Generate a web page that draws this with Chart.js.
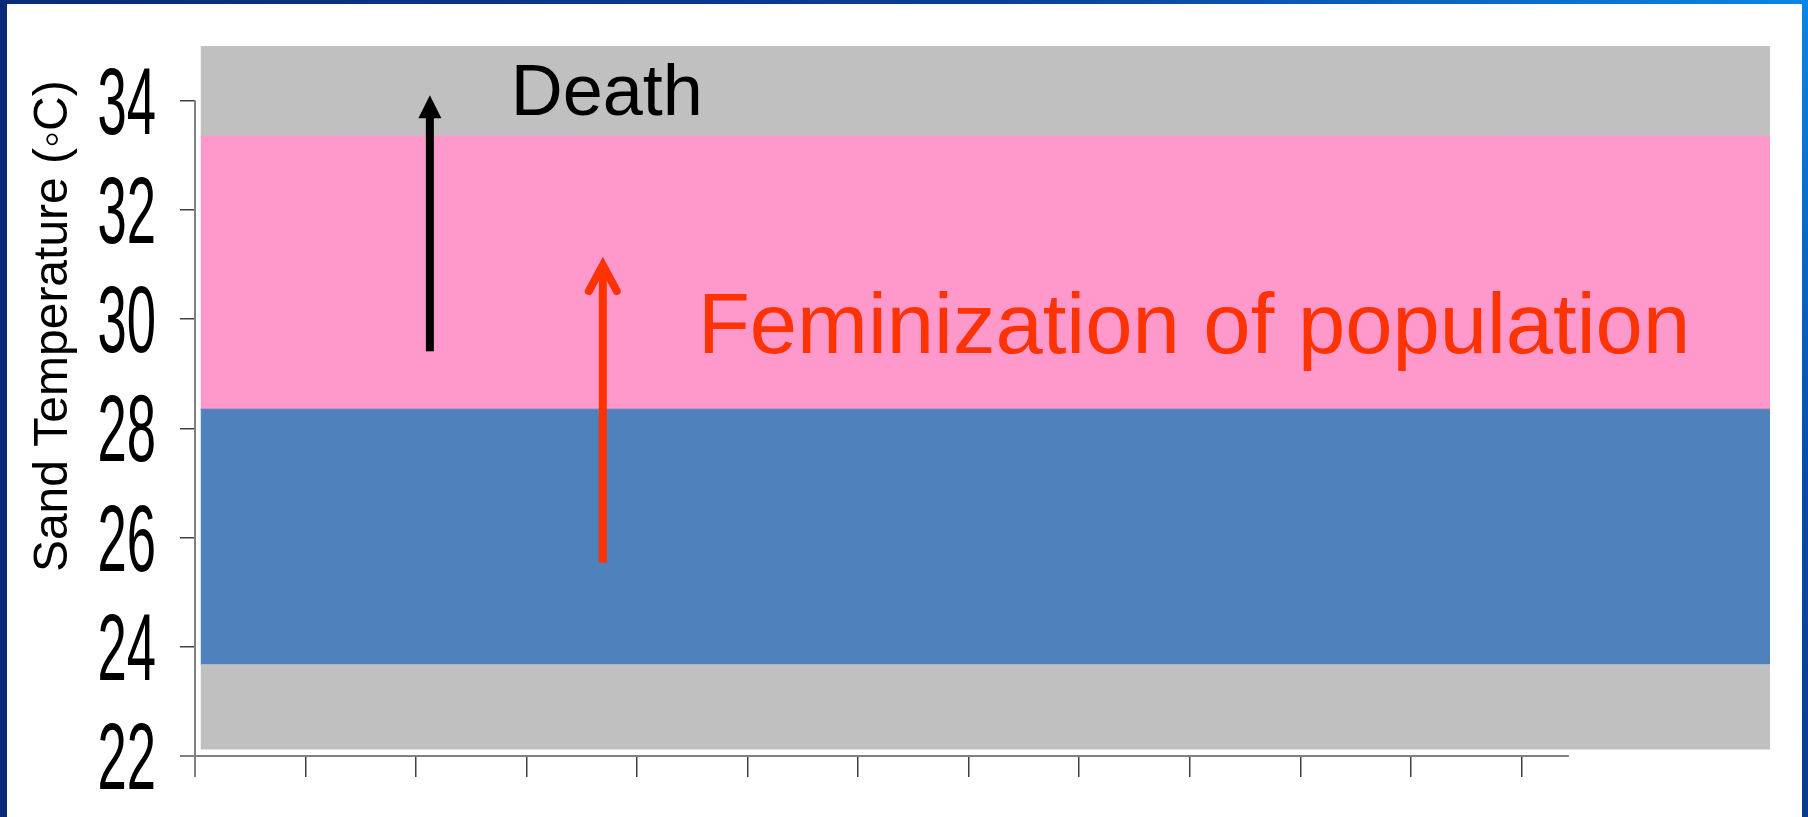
<!DOCTYPE html>
<html>
<head>
<meta charset="utf-8">
<script src="https://cdn.jsdelivr.net/npm/chart.js@4.4.1/dist/chart.umd.min.js"></script>
<style>
  html, body { margin: 0; padding: 0; }
  body {
    width: 1808px; height: 817px; overflow: hidden; position: relative;
    background: linear-gradient(to right, #0b2a78 0%, #0b3e98 55%, #0a86e6 100%);
  }
  .right-edge {
    position: absolute; left: 1802px; top: 0; width: 6px; height: 817px;
    background: linear-gradient(to bottom, #0a86e6, #0a4aa8 60%, #0b3a8e);
  }
  .slide { position: absolute; left: 7px; top: 4px; width: 1795px; height: 813px; background: #fff; }
  #chart { position: absolute; left: 0; top: 0; }
</style>
</head>
<body>
<div class="right-edge"></div>
<div class="slide"></div>
<canvas id="chart" width="1808" height="817"></canvas>
<script>
// Tick values
const yTicks = [22, 24, 26, 28, 30, 32, 34];
const xTicks = [0, 1, 2, 3, 4, 5, 6, 7, 8, 9, 10, 11, 12];

// Temperature bands (°C)
const bandNames = ["Death (cold)", "Male", "Female", "Death"];
const bandLow = [22.12, 23.67, 28.35, 33.35];
const bandHigh = [23.67, 28.35, 33.35, 35];
const bandColors = ["#C0C0C0", "#4F81BD", "#FF99CC", "#C0C0C0"];
const bandStart = 0.05;
const bandEnd = 14.25;
const xAxisEnd = 12.43;

// Arrows (x, from temp, to temp)
const arrowX = [2.125, 3.69];
const arrowFrom = [29.41, 25.54];
const arrowTo = [34.1, 31.08];

// Text notes
const noteText = ["Death", "Feminization of population"];
const noteX = [2.856, 4.55];
const noteY = [33.73, 29.38];

const yTitle = "Sand Temperature (\u25E6C)";

const datasets = bandNames.map((name, i) => ({
  label: name,
  data: [{ x: bandStart, y: bandHigh[i] }, { x: bandEnd, y: bandHigh[i] }],
  fill: { value: bandLow[i] },
  backgroundColor: bandColors[i],
  borderColor: bandColors[i],
  borderWidth: 1,
  pointRadius: 0,
  tension: 0,
}));

// draws axis lines, condensed tick labels, title, arrows and notes
const extras = {
  id: "extras",
  afterDraw(chart) {
    const { ctx, scales: { x, y } } = chart;
    ctx.save();

    // axis lines
    ctx.strokeStyle = "#808080";
    ctx.lineWidth = 2;
    ctx.beginPath();
    ctx.moveTo(x.left, y.getPixelForValue(34));
    ctx.lineTo(x.left, y.bottom + 21);
    ctx.moveTo(x.left - 15, y.bottom);
    ctx.lineTo(x.getPixelForValue(xAxisEnd), y.bottom);
    ctx.stroke();

    // y tick labels (narrow)
    ctx.fillStyle = "#000";
    ctx.font = '94px "Liberation Sans"';
    ctx.textAlign = "right";
    ctx.textBaseline = "alphabetic";
    yTicks.forEach((v) => {
      ctx.save();
      ctx.translate(x.left - 39, y.getPixelForValue(v) + 33);
      ctx.scale(0.56, 1);
      ctx.fillText(String(v), 0, 0);
      ctx.restore();
    });

    // y title
    ctx.save();
    ctx.translate(67, y.getPixelForValue(29.87));
    ctx.rotate(-Math.PI / 2);
    ctx.font = '48px "Liberation Sans"';
    ctx.textAlign = "center";
    ctx.fillText(yTitle, 0, 0);
    ctx.restore();

    // black arrow (filled head)
    let px = x.getPixelForValue(arrowX[0]);
    let pBot = y.getPixelForValue(arrowFrom[0]);
    let pTip = y.getPixelForValue(arrowTo[0]);
    ctx.fillStyle = "#000";
    ctx.fillRect(px - 4, pTip + 20, 8, pBot - pTip - 20);
    ctx.beginPath();
    ctx.moveTo(px, pTip);
    ctx.lineTo(px + 11.5, pTip + 23);
    ctx.lineTo(px - 11.5, pTip + 23);
    ctx.closePath();
    ctx.fill();

    // red arrow (open head)
    px = x.getPixelForValue(arrowX[1]);
    pBot = y.getPixelForValue(arrowFrom[1]);
    pTip = y.getPixelForValue(arrowTo[1]);
    ctx.strokeStyle = "#FF3300";
    ctx.lineWidth = 8;
    ctx.lineCap = "butt";
    ctx.beginPath();
    ctx.moveTo(px, pBot);
    ctx.lineTo(px, pTip + 4);
    ctx.stroke();
    ctx.lineCap = "round";
    ctx.lineJoin = "miter";
    ctx.beginPath();
    ctx.moveTo(px - 14, pTip + 31);
    ctx.lineTo(px, pTip + 5);
    ctx.lineTo(px + 14, pTip + 31);
    ctx.stroke();

    // notes
    ctx.textAlign = "left";
    ctx.fillStyle = "#000";
    ctx.font = '72px "Liberation Sans"';
    ctx.fillText(noteText[0], x.getPixelForValue(noteX[0]), y.getPixelForValue(noteY[0]));
    ctx.fillStyle = "#FF3300";
    ctx.font = '85px "Liberation Sans"';
    ctx.fillText(noteText[1], x.getPixelForValue(noteX[1]), y.getPixelForValue(noteY[1]));

    ctx.restore();
  },
};

const chart = new Chart(document.getElementById("chart"), {
  type: "line",
  data: { datasets: datasets },
  options: {
    responsive: false,
    animation: false,
    events: [],
    layout: { padding: { left: 180, right: 38, top: 46, bottom: 40 } },
    plugins: { legend: { display: false }, tooltip: { enabled: false } },
    scales: {
      x: {
        type: "linear",
        min: 0,
        max: bandEnd,
        afterBuildTicks: (s) => { s.ticks = xTicks.map((v) => ({ value: v })); },
        afterFit: (s) => { s.height = 21; },
        ticks: { display: false },
        grid: { drawOnChartArea: false, drawTicks: true, tickLength: 21, color: "#404040", lineWidth: 1.5 },
        border: { display: false },
      },
      y: {
        type: "linear",
        min: 22,
        max: 35,
        afterBuildTicks: (s) => { s.ticks = yTicks.map((v) => ({ value: v })); },
        afterFit: (s) => { s.width = 15; },
        ticks: { display: false },
        grid: { drawOnChartArea: false, drawTicks: true, tickLength: 15, color: "#404040", lineWidth: 1.5 },
        border: { display: false },
      },
    },
  },
  plugins: [extras],
});
</script>
</body>
</html>
